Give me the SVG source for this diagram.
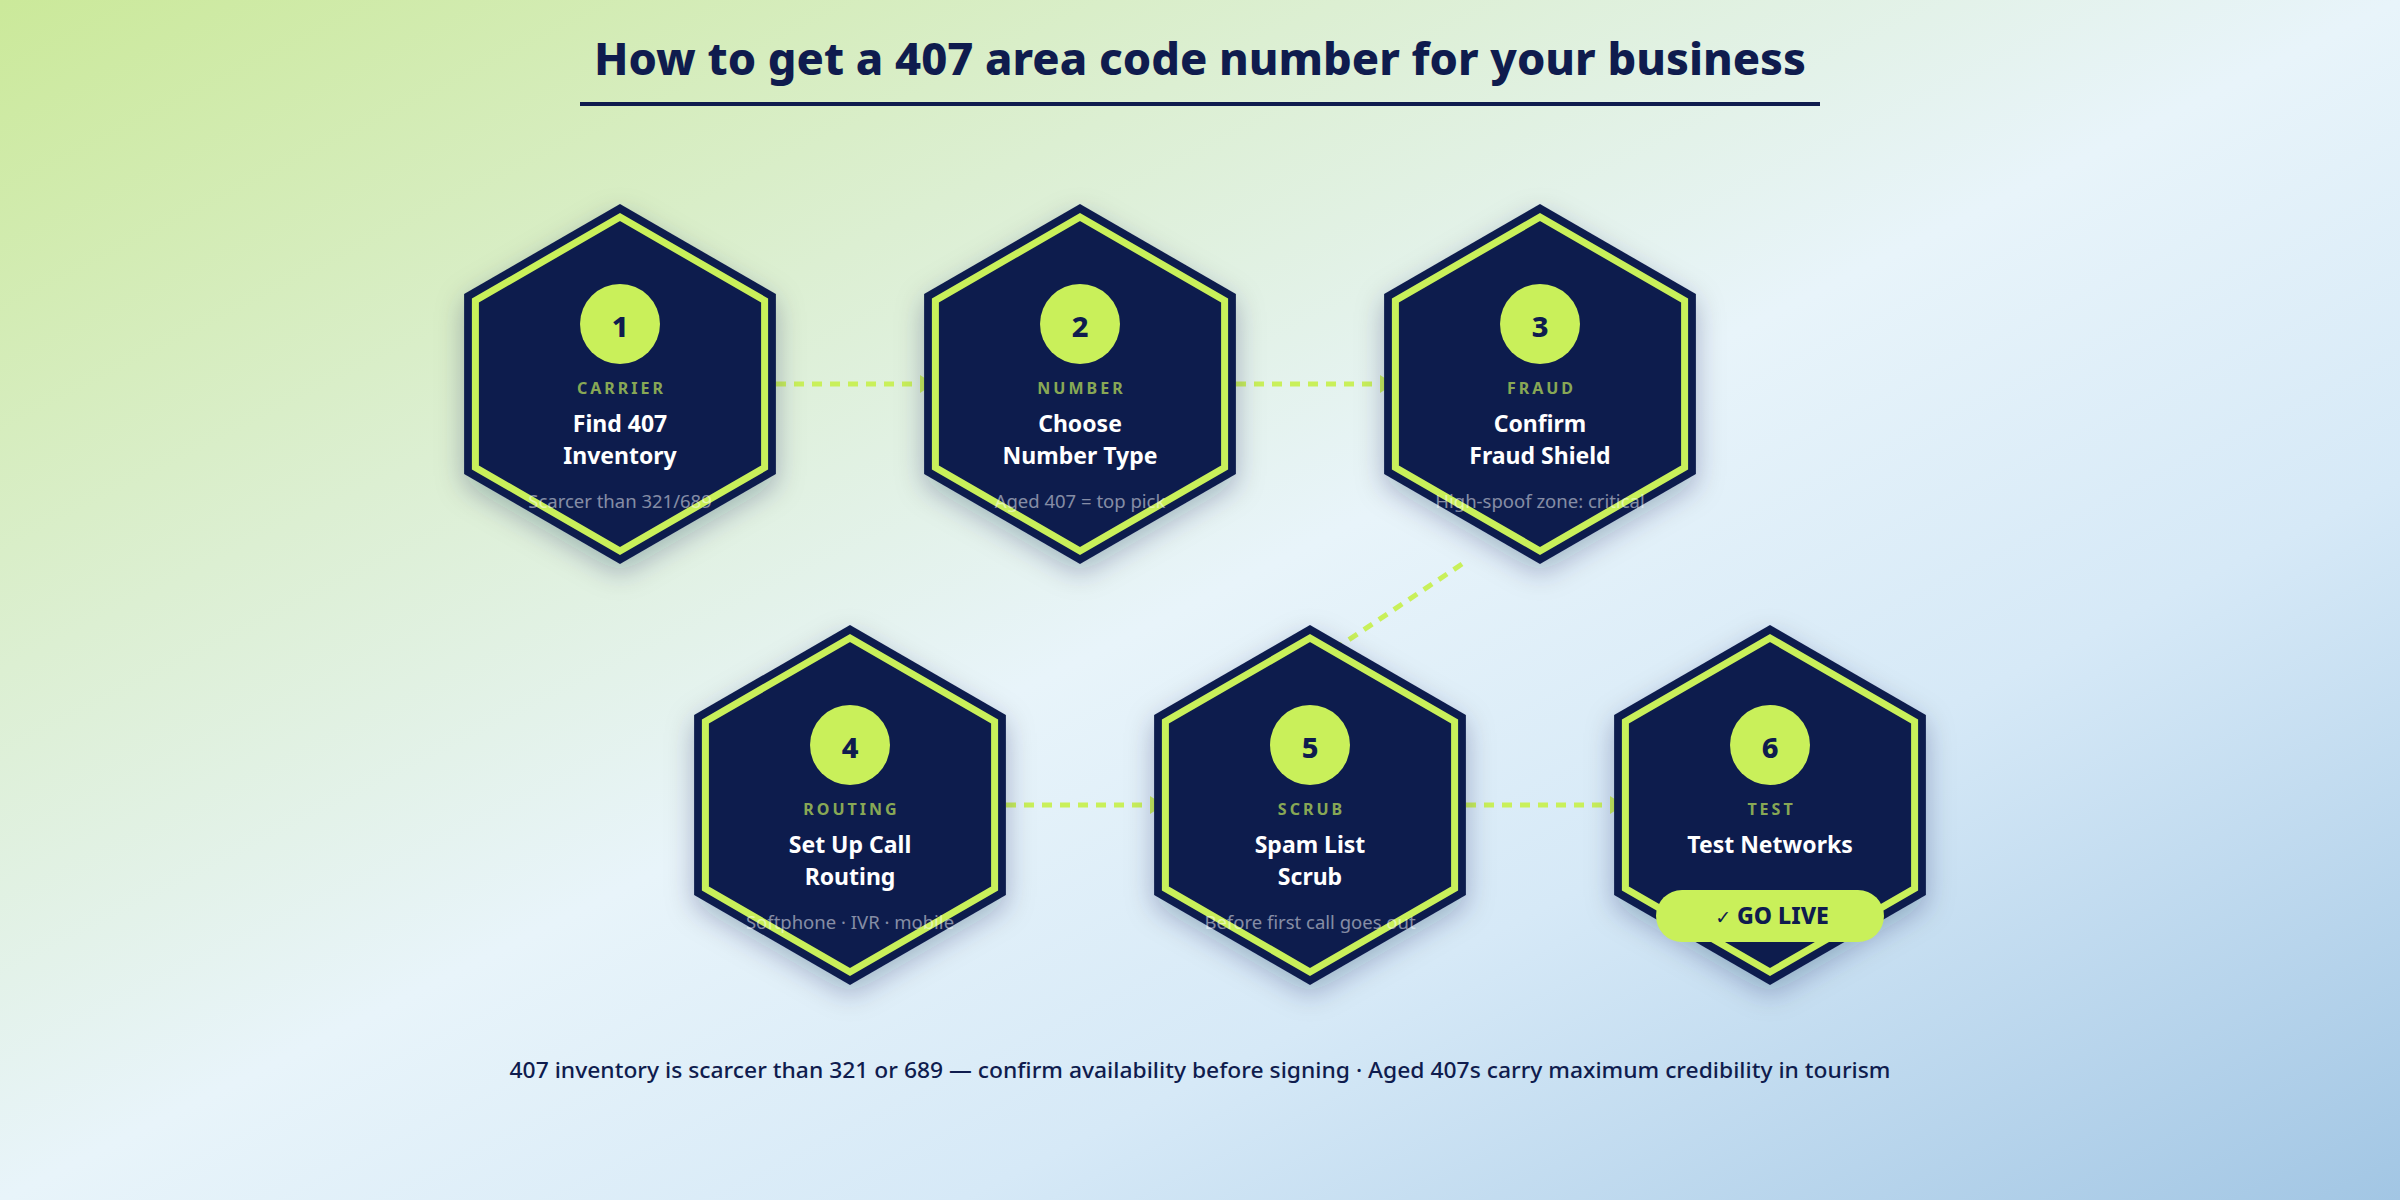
<svg xmlns="http://www.w3.org/2000/svg" width="2400" height="1200" viewBox="0 0 2400 1200">
<defs>
<linearGradient id="bg" x1="0" y1="0" x2="1" y2="1">
<stop offset="0" stop-color="#cbe99a"/>
<stop offset="0.28" stop-color="#dcefd2"/>
<stop offset="0.5" stop-color="#e8f4fa"/>
<stop offset="0.7" stop-color="#d6e9f7"/>
<stop offset="1" stop-color="#a2c6e4"/>
</linearGradient>
<filter id="sh" x="-30%" y="-30%" width="160%" height="160%">
<feDropShadow dx="0" dy="10" stdDeviation="14" flood-color="#0f1c4e" flood-opacity="0.28"/>
</filter>
<polygon id="hexOuter" points="0,-180 155.9,-90 155.9,90 0,180 -155.9,90 -155.9,-90"/>
<polygon id="hexInner" points="0,-167 144.6,-83.5 144.6,83.5 0,167 -144.6,83.5 -144.6,-83.5"/>
</defs>
<style>
.outer{fill:#0f1c4e;filter:url(#sh)}
.inner{fill:none;stroke:#c9f05a;stroke-width:7;stroke-linejoin:miter}
.badge{fill:#c9f05a}
.num{font-family:"Noto Sans","Open Sans",sans-serif;font-weight:800;font-size:29px;fill:#0f1c4e;text-anchor:middle}
.cat{font-family:"Noto Sans","Open Sans",sans-serif;font-weight:700;font-size:16px;letter-spacing:3px;fill:#c9f05a;fill-opacity:0.68;text-anchor:middle}
.ttl{font-family:"Noto Sans","Open Sans",sans-serif;font-weight:700;font-size:23px;fill:#ffffff;text-anchor:middle}
.sub{font-family:"Noto Sans","Open Sans",sans-serif;font-weight:400;font-size:18.5px;fill:#ffffff;fill-opacity:0.5;text-anchor:middle}
.conn{stroke:#c9f05a;stroke-width:5;stroke-dasharray:10 8;fill:none}
.arr{fill:#c9f05a}
</style>
<rect x="0" y="0" width="2400" height="1200" fill="url(#bg)"/>
<g id="title">
<text x="1200" y="75" font-family="'Noto Sans','Open Sans',sans-serif" font-weight="800" font-size="45" fill="#0f1c4e" text-anchor="middle" textLength="1212" lengthAdjust="spacingAndGlyphs">How to get a 407 area code number for your business</text>
<rect x="580" y="102" width="1240" height="4" fill="#0f1c4e"/>
</g>
<g id="connectors">
<line class="conn" x1="776" y1="384" x2="921" y2="384"/>
<polygon class="arr" points="920,375 920,393 934,384"/>
<line class="conn" x1="1236" y1="384" x2="1381" y2="384"/>
<polygon class="arr" points="1380,375 1380,393 1394,384"/>
<line class="conn" x1="1462" y1="564" x2="1335" y2="649"/>
<line class="conn" x1="1006" y1="805" x2="1151" y2="805"/>
<polygon class="arr" points="1150,796 1150,814 1164,805"/>
<line class="conn" x1="1466" y1="805" x2="1611" y2="805"/>
<polygon class="arr" points="1610,796 1610,814 1624,805"/>
</g>
<g id="node1" transform="translate(620,384)">
<use href="#hexOuter" class="outer"/>
<use href="#hexInner" class="inner"/>
<circle class="badge" cx="0" cy="-60" r="40"/>
<text class="num" x="0" y="-47">1</text>
<text class="cat" x="1.5" y="10">CARRIER</text>
<text class="ttl" x="0" y="48">Find 407</text>
<text class="ttl" x="0" y="80">Inventory</text>
<text class="sub" x="0" y="124">Scarcer than 321/689</text>
</g>
<g id="node2" transform="translate(1080,384)">
<use href="#hexOuter" class="outer"/>
<use href="#hexInner" class="inner"/>
<circle class="badge" cx="0" cy="-60" r="40"/>
<text class="num" x="0" y="-47">2</text>
<text class="cat" x="1.5" y="10">NUMBER</text>
<text class="ttl" x="0" y="48">Choose</text>
<text class="ttl" x="0" y="80">Number Type</text>
<text class="sub" x="0" y="124">Aged 407 = top pick</text>
</g>
<g id="node3" transform="translate(1540,384)">
<use href="#hexOuter" class="outer"/>
<use href="#hexInner" class="inner"/>
<circle class="badge" cx="0" cy="-60" r="40"/>
<text class="num" x="0" y="-47">3</text>
<text class="cat" x="1.5" y="10">FRAUD</text>
<text class="ttl" x="0" y="48">Confirm</text>
<text class="ttl" x="0" y="80">Fraud Shield</text>
<text class="sub" x="0" y="124">High-spoof zone: critical</text>
</g>
<g id="node4" transform="translate(850,805)">
<use href="#hexOuter" class="outer"/>
<use href="#hexInner" class="inner"/>
<circle class="badge" cx="0" cy="-60" r="40"/>
<text class="num" x="0" y="-47">4</text>
<text class="cat" x="1.5" y="10">ROUTING</text>
<text class="ttl" x="0" y="48">Set Up Call</text>
<text class="ttl" x="0" y="80">Routing</text>
<text class="sub" x="0" y="124">Softphone · IVR · mobile</text>
</g>
<g id="node5" transform="translate(1310,805)">
<use href="#hexOuter" class="outer"/>
<use href="#hexInner" class="inner"/>
<circle class="badge" cx="0" cy="-60" r="40"/>
<text class="num" x="0" y="-47">5</text>
<text class="cat" x="1.5" y="10">SCRUB</text>
<text class="ttl" x="0" y="48">Spam List</text>
<text class="ttl" x="0" y="80">Scrub</text>
<text class="sub" x="0" y="124">Before first call goes out</text>
</g>
<g id="node6" transform="translate(1770,805)">
<use href="#hexOuter" class="outer"/>
<use href="#hexInner" class="inner"/>
<circle class="badge" cx="0" cy="-60" r="40"/>
<text class="num" x="0" y="-47">6</text>
<text class="cat" x="1.5" y="10">TEST</text>
<text class="ttl" x="0" y="48">Test Networks</text>
<rect x="-114" y="85" width="228" height="52" rx="26" fill="#c9f05a"/>
<text x="2" y="119" font-family="'Noto Sans','Open Sans',sans-serif" font-weight="800" font-size="23" fill="#0f1c4e" text-anchor="middle"><tspan font-weight="400" font-size="19" font-family="'DejaVu Sans',sans-serif">✓</tspan> GO LIVE</text>
</g>
<g id="footer">
<text x="1200" y="1078" font-family="'Noto Sans','Open Sans',sans-serif" font-weight="500" font-size="22" fill="#0f1c4e" text-anchor="middle" textLength="1381" lengthAdjust="spacingAndGlyphs">407 inventory is scarcer than 321 or 689 — confirm availability before signing · Aged 407s carry maximum credibility in tourism</text>
</g>
</svg>
